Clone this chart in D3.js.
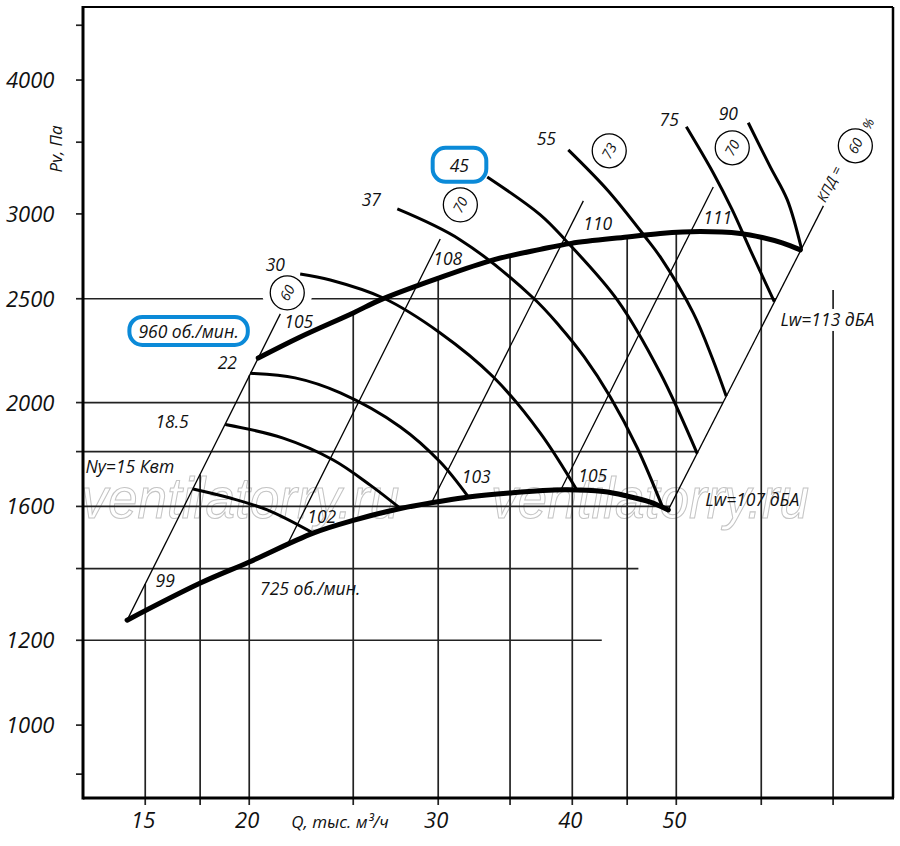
<!DOCTYPE html>
<html>
<head>
<meta charset="utf-8">
<script src="https://cdn.jsdelivr.net/npm/d3@7"></script>
<style>
  body { margin: 0; background: #fff; }
  svg text { font-family: "Open Sans", sans-serif; font-style: italic; fill: #111; }
</style>
</head>
<body>
<script>
// All values are Q (thousand m3/h) and Pv (Pa)

// axis ticks
const qTicks = [16, 18, 20, 25, 30, 35, 40, 45, 50, 60, 70];
const qTickTop = [1354, 1714, 2120, 2425, 2613, 2740, 2816, 2855, 2880, 2852, 2548]; // where each vertical grid line starts
const qLabelValues = [16, 20, 30, 40, 50];
const qLabelText = ["15", "20", "30", "40", "50"];
const pTicks = [900, 1000, 1200, 1400, 1600, 1800, 2000, 2500, 3000, 3500, 4000, 4500];
const pLabels = [1000, 1200, 1600, 2000, 2500, 3000, 4000];
const pGrid = [1200, 1400, 1600, 1800, 2000, 2500];

// thick speed curves
const curve960 = [[20.39, 2201], [22.31, 2303], [25.0, 2425], [26.5, 2494], [29.88, 2609], [33.77, 2718], [37.35, 2780], [39.91, 2816], [45.01, 2855], [48.31, 2877], [52.64, 2889], [57.36, 2877], [60.13, 2852], [62.76, 2819], [65.26, 2777]];
const curve725 = [[15.39, 1253], [18.01, 1357], [20.0, 1420], [22.94, 1511], [25.0, 1553], [27.66, 1593], [29.88, 1615], [32.0, 1633], [34.94, 1647], [39.24, 1658], [42.75, 1652], [45.01, 1636], [47.29, 1615], [49.15, 1588]];
const speedLabels = ["960 об./мин.", "725 об./мин."];
const speedLabelAt = [[17.56, 2298], [22.8, 1322]];

// fan curves for each motor power
const fanLabels = ["Ny=15 Квт", "18.5", "22", "30", "37", "45", "55", "75", "90"];
const fanLabelAt = [[15.48, 1719], [16.95, 1894], [19.08, 2150], [21.15, 2654], [25.99, 3052], [31.39, 3284], [37.83, 3480], [49.25, 3625], [55.9, 3672]];
const fanCurves = [
  [[17.73, 1661], [19.2, 1629], [20.79, 1588], [22.94, 1511]],
  [[19.0, 1908], [21.51, 1853], [23.95, 1768], [25.93, 1675], [27.66, 1593]],
  [[20.04, 2130], [22.07, 2109], [24.32, 2042], [27.66, 1898], [30.13, 1760], [32.0, 1633]],
  [[22.31, 2637], [23.8, 2603], [26.67, 2504], [30.13, 2323], [33.77, 2113], [37.35, 1873], [40.43, 1655]],
  [[27.48, 3032], [31.46, 2837], [36.79, 2504], [38.98, 2353], [41.04, 2206], [43.4, 2024], [45.99, 1814], [48.52, 1600]],
  [[33.33, 3248], [37.35, 2994], [39.4, 2837], [44.05, 2494], [48.31, 2131], [52.3, 1792]],
  [[39.66, 3443], [43.21, 3152], [46.78, 2855], [48.31, 2735], [51.85, 2425], [54.01, 2201], [55.66, 2027]],
  [[51.09, 3618], [54.13, 3276], [56.38, 3026], [58.6, 2777], [61.7, 2485]],
  [[58.35, 3649], [61.17, 3319], [63.45, 3092], [65.4, 2785]]
];

// system lines (P ~ Q^2) with sound levels at both ends and efficiency at the top
const sysLines = [
  [[15.39, 1253], [21.38, 2420]],
  [[21.74, 1479], [30.13, 2843]],
  [[29.5, 1605], [40.96, 3085]],
  [[38.98, 1654], [54.13, 3179]],
  [[49.15, 1588], [68.56, 3052]]
];
const sysLowLabels = ["99", "102", "103", "105", "Lw=107 дБА"];
const sysLowAt = [[16.7, 1345], [23.37, 1544], [32.55, 1682], [41.8, 1686], [58.85, 1602]];
const sysHighLabels = ["105", "108", "110", "111", "Lw=113 дБА"];
const sysHighAt = [[22.24, 2348], [30.62, 2689], [42.25, 2899], [54.65, 2936], [69.15, 2358]];
const effText = ["60", "70", "73", "70", "60"];
const effAt = [[21.7, 2532], [31.46, 3059], [43.3, 3436], [56.38, 3458], [73.42, 3473]];
const kpdAt = [68.2, 3085];
const percentAt = [75.5, 3641];

const watermarkAt = [[13.95, 1561], [33.6, 1561]];

// Step 1: svg and scales
const width = 900;
const height = 846;
const svg = d3.select("body").append("svg").attr("width", width).attr("height", height);

const x = d3.scaleLog().domain([14, 79.6]).range([83, 893]);
const y = d3.scaleLog().domain([855, 4680]).range([798, 7]);
const [x0, x1] = x.range();
const [yBottom, yTop] = y.range();

const line = d3.line().x((d) => x(d[0])).y((d) => y(d[1]));
const smooth = d3.line().x((d) => x(d[0])).y((d) => y(d[1])).curve(d3.curveCatmullRom.alpha(0.5));

// right boundary (last system line) in log space, used to end horizontal grid lines
const rb = sysLines[sysLines.length - 1];
const rbK = Math.log(rb[1][1] / rb[0][1]) / Math.log(rb[1][0] / rb[0][0]);
const qOnRight = (p) => rb[0][0] * Math.pow(p / rb[0][1], 1 / rbK);

// Step 2: watermark
svg.append("g")
  .selectAll("text")
  .data(watermarkAt)
  .enter()
  .append("text")
  .attr("x", (d) => x(d[0]))
  .attr("y", (d) => y(d[1]))
  .attr("textLength", 318)
  .attr("lengthAdjust", "spacingAndGlyphs")
  .style("font-family", "'Liberation Sans', sans-serif")
  .style("font-style", "italic")
  .style("font-size", "58px")
  .style("fill", "none")
  .style("stroke", "#c4c4c4")
  .style("stroke-width", 1.1)
  .text("ventilatorry.ru");

// Step 3: grid
const grid = svg.append("g").attr("stroke", "#222").attr("stroke-width", 1.7);
grid.selectAll(".h")
  .data(pGrid)
  .enter()
  .append("line")
  .attr("x1", x0)
  .attr("x2", (d) => x(qOnRight(d)))
  .attr("y1", (d) => y(d))
  .attr("y2", (d) => y(d));

grid.selectAll(".v")
  .data(qTicks)
  .enter()
  .append("line")
  .attr("x1", (d) => x(d))
  .attr("x2", (d) => x(d))
  .attr("y1", (d, i) => y(qTickTop[i]))
  .attr("y2", yBottom + 7);

grid.selectAll(".yt")
  .data(pTicks)
  .enter()
  .append("line")
  .attr("x1", x0 - 7)
  .attr("x2", x0)
  .attr("y1", (d) => y(d))
  .attr("y2", (d) => y(d));

// Step 4: frame
const frame = svg.append("g").attr("stroke", "#000").attr("fill", "none");
frame.append("line").attr("x1", x0).attr("x2", x1).attr("y1", yTop).attr("y2", yTop).attr("stroke-width", 2.2);
frame.append("line").attr("x1", x1).attr("x2", x1).attr("y1", yTop).attr("y2", yBottom).attr("stroke-width", 2.5);
frame.append("line").attr("x1", x0).attr("x2", x0).attr("y1", yTop - 1).attr("y2", yBottom + 1.5).attr("stroke-width", 3);
frame.append("line").attr("x1", x0).attr("x2", x1 + 1).attr("y1", yBottom).attr("y2", yBottom).attr("stroke-width", 3);

// tick labels
svg.append("g")
  .selectAll("text")
  .data(pLabels)
  .enter()
  .append("text")
  .attr("x", 6)
  .attr("y", (d) => y(d))
  .attr("dy", "0.36em")
  .style("font-size", "22px")
  .text((d) => d);

svg.append("g")
  .selectAll("text")
  .data(qLabelValues)
  .enter()
  .append("text")
  .attr("x", (d) => x(d) - 2)
  .attr("y", yBottom + 30)
  .attr("text-anchor", "middle")
  .style("font-size", "22px")
  .text((d, i) => qLabelText[i]);

svg.append("text")
  .attr("x", x(21.89))
  .attr("y", yBottom + 30)
  .style("font-size", "17px")
  .text("Q, тыс. м³/ч");

svg.append("text")
  .attr("transform", `translate(62,${y(3450)}) rotate(-90)`)
  .attr("text-anchor", "middle")
  .style("font-size", "17px")
  .text("Pv, Па");

// Step 5: white halos behind efficiency circles (they cut the grid)
svg.append("g")
  .selectAll("circle")
  .data(effAt)
  .enter()
  .append("circle")
  .attr("cx", (d) => x(d[0]))
  .attr("cy", (d) => y(d[1]))
  .attr("r", 25)
  .attr("fill", "#fff");

// Step 6: system lines, fan curves, speed curves
svg.append("g")
  .selectAll("path")
  .data(sysLines)
  .enter()
  .append("path")
  .attr("d", line)
  .attr("fill", "none")
  .attr("stroke", "#000")
  .attr("stroke-width", 1.3);

svg.append("g")
  .selectAll("path")
  .data(fanCurves)
  .enter()
  .append("path")
  .attr("d", smooth)
  .attr("fill", "none")
  .attr("stroke", "#000")
  .attr("stroke-width", 3);

svg.append("g")
  .selectAll("path")
  .data([curve960, curve725])
  .enter()
  .append("path")
  .attr("d", smooth)
  .attr("fill", "none")
  .attr("stroke", "#000")
  .attr("stroke-width", 5)
  .attr("stroke-linecap", "round");

// Step 7: efficiency circles
const eff = svg.append("g")
  .selectAll("g")
  .data(effAt)
  .enter()
  .append("g")
  .attr("transform", (d) => `translate(${x(d[0])},${y(d[1])})`);
eff.append("circle").attr("r", 17).attr("fill", "#fff").attr("stroke", "#000").attr("stroke-width", 1.3);
eff.append("text")
  .attr("transform", "rotate(-62)")
  .attr("text-anchor", "middle")
  .attr("dy", "0.36em")
  .style("font-size", "14px")
  .text((d, i) => effText[i]);

svg.append("text")
  .attr("transform", `translate(${x(kpdAt[0])},${y(kpdAt[1])}) rotate(-63)`)
  .attr("dy", "0.35em")
  .style("font-size", "14px")
  .text("КПД =");

svg.append("text")
  .attr("transform", `translate(${x(percentAt[0])},${y(percentAt[1])}) rotate(-63)`)
  .attr("text-anchor", "middle")
  .attr("dy", "0.35em")
  .style("font-size", "13px")
  .text("%");

// Step 8: labels
const labels = []
  .concat(fanLabels.map((t, i) => ({ t, at: fanLabelAt[i] })))
  .concat(sysLowLabels.map((t, i) => ({ t, at: sysLowAt[i] })))
  .concat(sysHighLabels.map((t, i) => ({ t, at: sysHighAt[i] })))
  .concat(speedLabels.map((t, i) => ({ t, at: speedLabelAt[i] })));

const highlight = { "45": [17, 6], "960 об./мин.": [9, 3] }; // blue box padding
const backed = ["Lw=113 дБА"]; // labels that cut the grid line behind them

const lab = svg.append("g")
  .selectAll("g")
  .data(labels)
  .enter()
  .append("g");

lab.append("text")
  .attr("x", (d) => x(d.at[0]))
  .attr("y", (d) => y(d.at[1]))
  .attr("text-anchor", "middle")
  .style("font-size", "17.5px")
  .text((d) => d.t);

lab.each(function (d) {
  const g = d3.select(this);
  const b = g.select("text").node().getBBox();
  if (highlight[d.t]) {
    const [px, py] = highlight[d.t];
    g.insert("rect", "text")
      .attr("x", b.x - px)
      .attr("y", b.y - py + 1)
      .attr("width", b.width + 2 * px)
      .attr("height", b.height + 2 * py - 2)
      .attr("rx", 13)
      .attr("fill", "#fff")
      .attr("stroke", "#0b8ad8")
      .attr("stroke-width", 4);
  } else if (backed.includes(d.t)) {
    g.insert("rect", "text")
      .attr("x", b.x)
      .attr("y", b.y + 2)
      .attr("width", b.width)
      .attr("height", b.height - 2)
      .attr("fill", "#fff");
  }
});
</script>
</body>
</html>
